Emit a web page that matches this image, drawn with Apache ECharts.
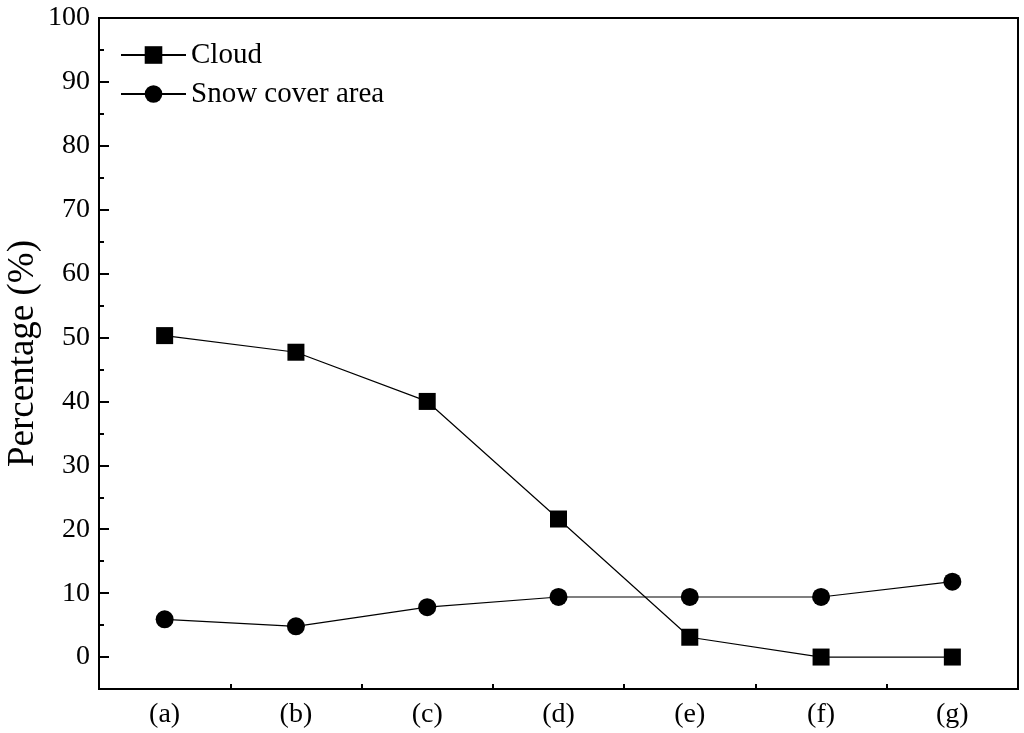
<!DOCTYPE html>
<html>
<head>
<meta charset="utf-8">
<script src="https://cdn.jsdelivr.net/npm/echarts@6/dist/echarts.min.js"></script>
<style>html,body{margin:0;padding:0;background:#fff;}#c{width:1024px;height:733px;}</style>
</head>
<body>
<div id="c"></div>
<script>
const categories = ['(a)', '(b)', '(c)', '(d)', '(e)', '(f)', '(g)'];
const cloud = [50.3, 47.7, 40.0, 21.6, 3.1, 0, 0];
const snowCover = [5.9, 4.8, 7.8, 9.4, 9.4, 9.4, 11.8];
const yMajorTicks = [0, 10, 20, 30, 40, 50, 60, 70, 80, 90, 100];
const yMinorTicks = [-5, 5, 15, 25, 35, 45, 55, 65, 75, 85, 95];
const seriesNames = ['Cloud', 'Snow cover area'];
const yAxisTitle = 'Percentage (%)';

const FONT = 'Liberation Serif';
const chart = echarts.init(document.getElementById('c'), null, {renderer: 'canvas'});
chart.setOption({
  animation: false,
  backgroundColor: '#fff',
  grid: {left: 99, right: 6, top: 18, bottom: 44, show: true, borderColor: '#000', borderWidth: 2, containLabel: false, outerBoundsMode: 'none'},
  legend: {
    orient: 'vertical', left: 120, top: 40, itemWidth: 65, itemHeight: 22, itemGap: 9,
    data: seriesNames,
    textStyle: {fontFamily: FONT, fontSize: 29, color: '#000', lineHeight: 30, padding: [0, 0, 0, 0]},
    padding: 0
  },
  xAxis: [{
    type: 'category', data: categories, boundaryGap: true,
    axisLine: {onZero: false, lineStyle: {color: '#000', width: 2}},
    axisTick: {inside: true, alignWithLabel: true, length: 9, lineStyle: {color: '#000', width: 2}},
    axisLabel: {fontFamily: FONT, fontSize: 28, color: '#000', margin: 12}
  }, {
    type: 'value', min: 0, max: categories.length, interval: 1, position: 'bottom',
    axisLine: {show: false, onZero: false},
    splitLine: {show: false},
    axisTick: {show: true, inside: true, length: 5, lineStyle: {color: '#000', width: 2}},
    axisLabel: {show: false}
  }],
  yAxis: [{
    type: 'value', min: -5, max: 100,
    name: yAxisTitle, nameLocation: 'middle', nameGap: 57, nameMoveOverlap: false,
    nameTextStyle: {fontFamily: FONT, fontSize: 37, color: '#000'},
    splitLine: {show: false},
    axisLine: {show: true, lineStyle: {color: '#000', width: 2}},
    axisTick: {show: true, inside: true, length: 10, customValues: yMajorTicks, lineStyle: {color: '#000', width: 2}},
    axisLabel: {fontFamily: FONT, fontSize: 28, color: '#000', margin: 9, customValues: yMajorTicks}
  }, {
    type: 'value', min: -5, max: 100, position: 'left',
    splitLine: {show: false},
    axisLine: {show: false},
    axisTick: {show: true, inside: true, length: 5, customValues: yMinorTicks, lineStyle: {color: '#000', width: 2}},
    axisLabel: {show: false}
  }],
  series: [{
    name: seriesNames[0], type: 'line', data: cloud, xAxisIndex: 0, yAxisIndex: 0,
    symbol: 'rect', symbolSize: 17,
    lineStyle: {color: '#000', width: 1.2}, itemStyle: {color: '#000'}
  }, {
    name: seriesNames[1], type: 'line', data: snowCover, xAxisIndex: 0, yAxisIndex: 0,
    symbol: 'circle', symbolSize: 18,
    lineStyle: {color: '#000', width: 1.2}, itemStyle: {color: '#000'}
  }]
});
</script>
</body>
</html>
